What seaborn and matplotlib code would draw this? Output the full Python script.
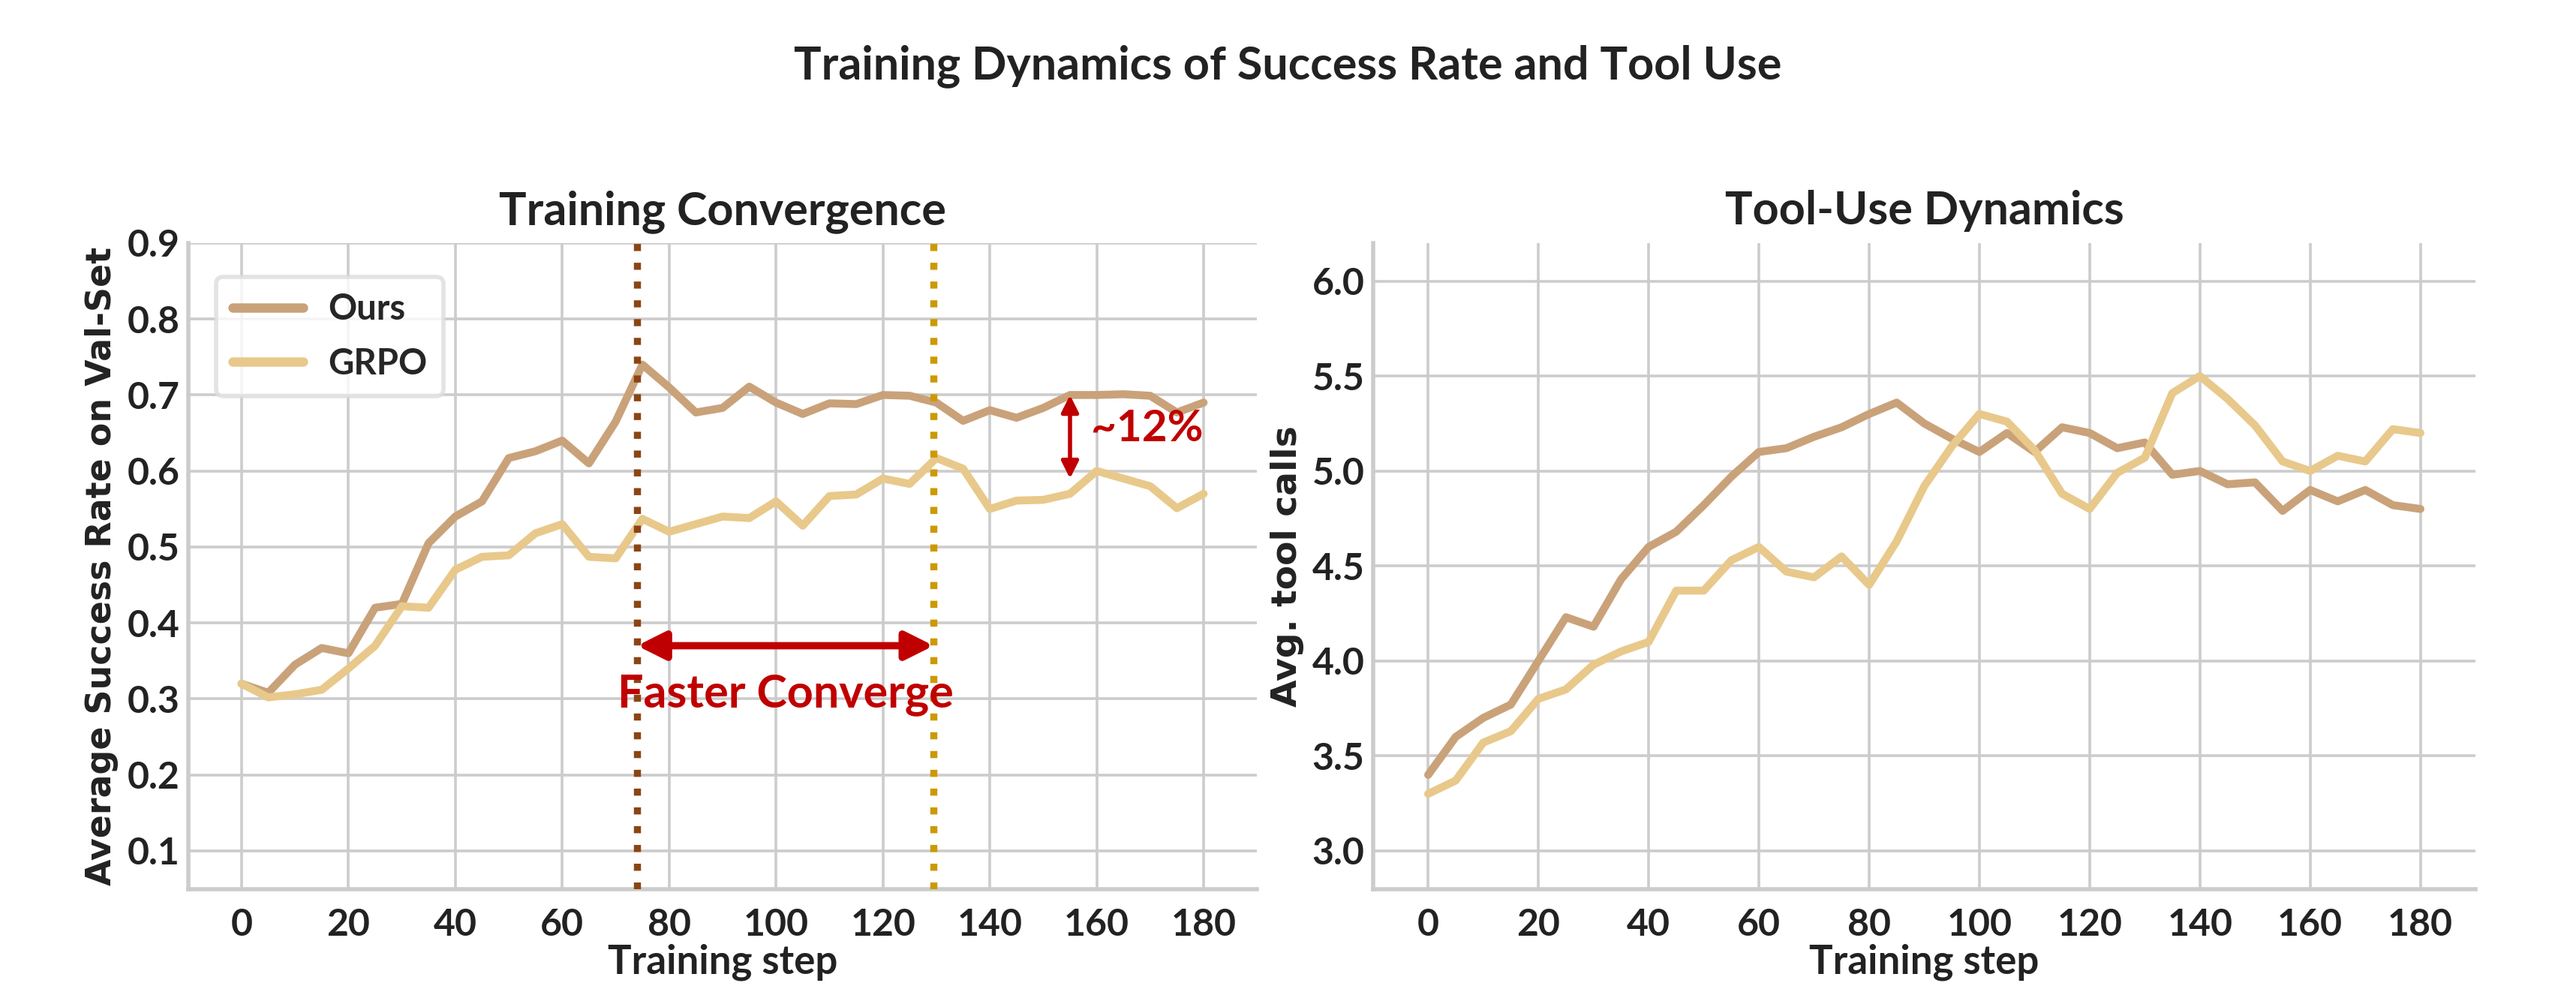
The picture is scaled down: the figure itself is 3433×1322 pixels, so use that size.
import numpy as np
import matplotlib
matplotlib.use("Agg")
import matplotlib.pyplot as plt
import seaborn as sns
import pandas as pd

steps = list(range(0, 181, 5))

ours_success = [0.320, 0.308, 0.345, 0.367, 0.360, 0.420, 0.425, 0.505, 0.540, 0.560,
                0.617, 0.626, 0.640, 0.610, 0.665, 0.740, 0.710, 0.677, 0.683, 0.711,
                0.690, 0.675, 0.689, 0.688, 0.700, 0.699, 0.690, 0.666, 0.680, 0.670,
                0.683, 0.700, 0.700, 0.701, 0.699, 0.677, 0.690]
grpo_success = [0.320, 0.302, 0.306, 0.312, 0.340, 0.370, 0.422, 0.420, 0.470, 0.487,
                0.489, 0.518, 0.530, 0.487, 0.485, 0.537, 0.520, 0.530, 0.540, 0.538,
                0.560, 0.528, 0.567, 0.569, 0.590, 0.583, 0.617, 0.603, 0.550, 0.561,
                0.562, 0.570, 0.600, 0.590, 0.580, 0.551, 0.570]

ours_tools = [3.40, 3.60, 3.70, 3.77, 4.00, 4.23, 4.18, 4.43, 4.60, 4.68,
              4.82, 4.97, 5.10, 5.12, 5.18, 5.23, 5.30, 5.36, 5.25, 5.17,
              5.10, 5.20, 5.10, 5.23, 5.20, 5.12, 5.15, 4.98, 5.00, 4.93,
              4.94, 4.79, 4.90, 4.84, 4.90, 4.82, 4.80]
grpo_tools = [3.30, 3.37, 3.57, 3.63, 3.80, 3.85, 3.98, 4.05, 4.10, 4.37,
              4.37, 4.53, 4.60, 4.47, 4.44, 4.55, 4.40, 4.63, 4.92, 5.13,
              5.30, 5.26, 5.11, 4.88, 4.80, 4.99, 5.07, 5.41, 5.50, 5.38,
              5.24, 5.05, 5.00, 5.08, 5.05, 5.22, 5.20]

methods = ["Ours", "GRPO"]
palette = {"Ours": "#C9A27A", "GRPO": "#E8C98B"}

# where each method converges (dotted markers)
ours_conv_step = 74
grpo_conv_step = 129.5

df = pd.DataFrame({
    "step": steps * 2,
    "method": ["Ours"] * len(steps) + ["GRPO"] * len(steps),
    "success": ours_success + grpo_success,
    "tools": ours_tools + grpo_tools,
})

sns.set_style("whitegrid")
plt.rcParams["font.family"] = ["Lato", "DejaVu Sans"]
plt.rcParams["font.weight"] = "bold"

fig = plt.figure(figsize=(17.165, 6.61), dpi=200)
ax1 = fig.add_axes([0.073, 0.104, 0.415, 0.651])
ax2 = fig.add_axes([0.533, 0.104, 0.428, 0.651])

grid_kw = dict(color="#cccccc", linewidth=1.3)
lw = 3.8

# left panel
sns.lineplot(data=df, x="step", y="success", hue="method", hue_order=methods,
             palette=palette, linewidth=lw, ax=ax1)
ax1.axvline(ours_conv_step, color="#8B4513", linestyle=":", linewidth=3.4, zorder=3)
ax1.axvline(grpo_conv_step, color="#CC9900", linestyle=":", linewidth=3.4, zorder=3)
ax1.annotate("", xy=(ours_conv_step, 0.37), xytext=(grpo_conv_step, 0.37),
             arrowprops=dict(arrowstyle="<|-|>", color="#C00000", lw=3.5,
                             mutation_scale=28, shrinkA=0, shrinkB=0))
ax1.text((ours_conv_step + grpo_conv_step) / 2, 0.305, "Faster Converge",
         color="#C00000", fontsize=22, fontweight="bold", ha="center", va="center")
ax1.annotate("", xy=(155, 0.700), xytext=(155, 0.590),
             arrowprops=dict(arrowstyle="<|-|>", color="#C00000", lw=2,
                             mutation_scale=17, shrinkA=0, shrinkB=0))
ax1.text(159, 0.655, "~12%", color="#C00000", fontsize=21, fontweight="bold",
         ha="left", va="center")
ax1.set_xlim(-10, 190)
ax1.set_ylim(0.05, 0.9)
ax1.set_xticks(range(0, 181, 20))
ax1.set_yticks(np.arange(0.1, 0.91, 0.1))
ax1.set_title("Training Convergence", fontsize=22, fontweight="bold", color="#222222", pad=9)
ax1.set_xlabel("Training step", fontsize=19, fontweight="bold", color="#222222", labelpad=1)
ax1.set_ylabel("Average Success Rate on Val-Set", fontsize=16.5, fontweight="bold",
               color="#222222", family="DejaVu Sans")
leg = ax1.legend(loc="upper left", fontsize=17, frameon=True, handlelength=2.0,
                 handletextpad=0.7, borderpad=0.45, labelspacing=0.6,
                 bbox_to_anchor=(0.01, 0.975))
leg.get_frame().set_edgecolor("#dddddd")
leg.get_frame().set_linewidth(2)
for h in leg.get_lines():
    h.set_linewidth(4.5)
    h.set_solid_capstyle("round")

# right panel
sns.lineplot(data=df, x="step", y="tools", hue="method", hue_order=methods,
             palette=palette, linewidth=lw, ax=ax2, legend=False)
ax2.set_xlim(-10, 190)
ax2.set_ylim(2.8, 6.2)
ax2.set_xticks(range(0, 181, 20))
ax2.set_yticks(np.arange(3.0, 6.01, 0.5))
ax2.set_title("Tool-Use Dynamics", fontsize=22, fontweight="bold", color="#222222", pad=9)
ax2.set_xlabel("Training step", fontsize=19, fontweight="bold", color="#222222", labelpad=1)
ax2.set_ylabel("Avg. tool calls", fontsize=17, fontweight="bold",
               color="#222222", family="DejaVu Sans")

for ax in (ax1, ax2):
    ax.grid(True, **grid_kw)
    ax.tick_params(axis="both", labelsize=18, colors="#222222", length=0)
    ax.tick_params(axis="x", pad=9)
    ax.tick_params(axis="y", pad=4)
    for lab in ax.get_xticklabels() + ax.get_yticklabels():
        lab.set_fontweight("bold")
    sns.despine(ax=ax)
    for s in ("left", "bottom"):
        ax.spines[s].set_color("#cccccc")
        ax.spines[s].set_linewidth(2)

fig.suptitle("Training Dynamics of Success Rate and Tool Use", fontsize=22,
             fontweight="bold", color="#222222", y=0.955)

fig.savefig("out.png", dpi=200, facecolor="white")
